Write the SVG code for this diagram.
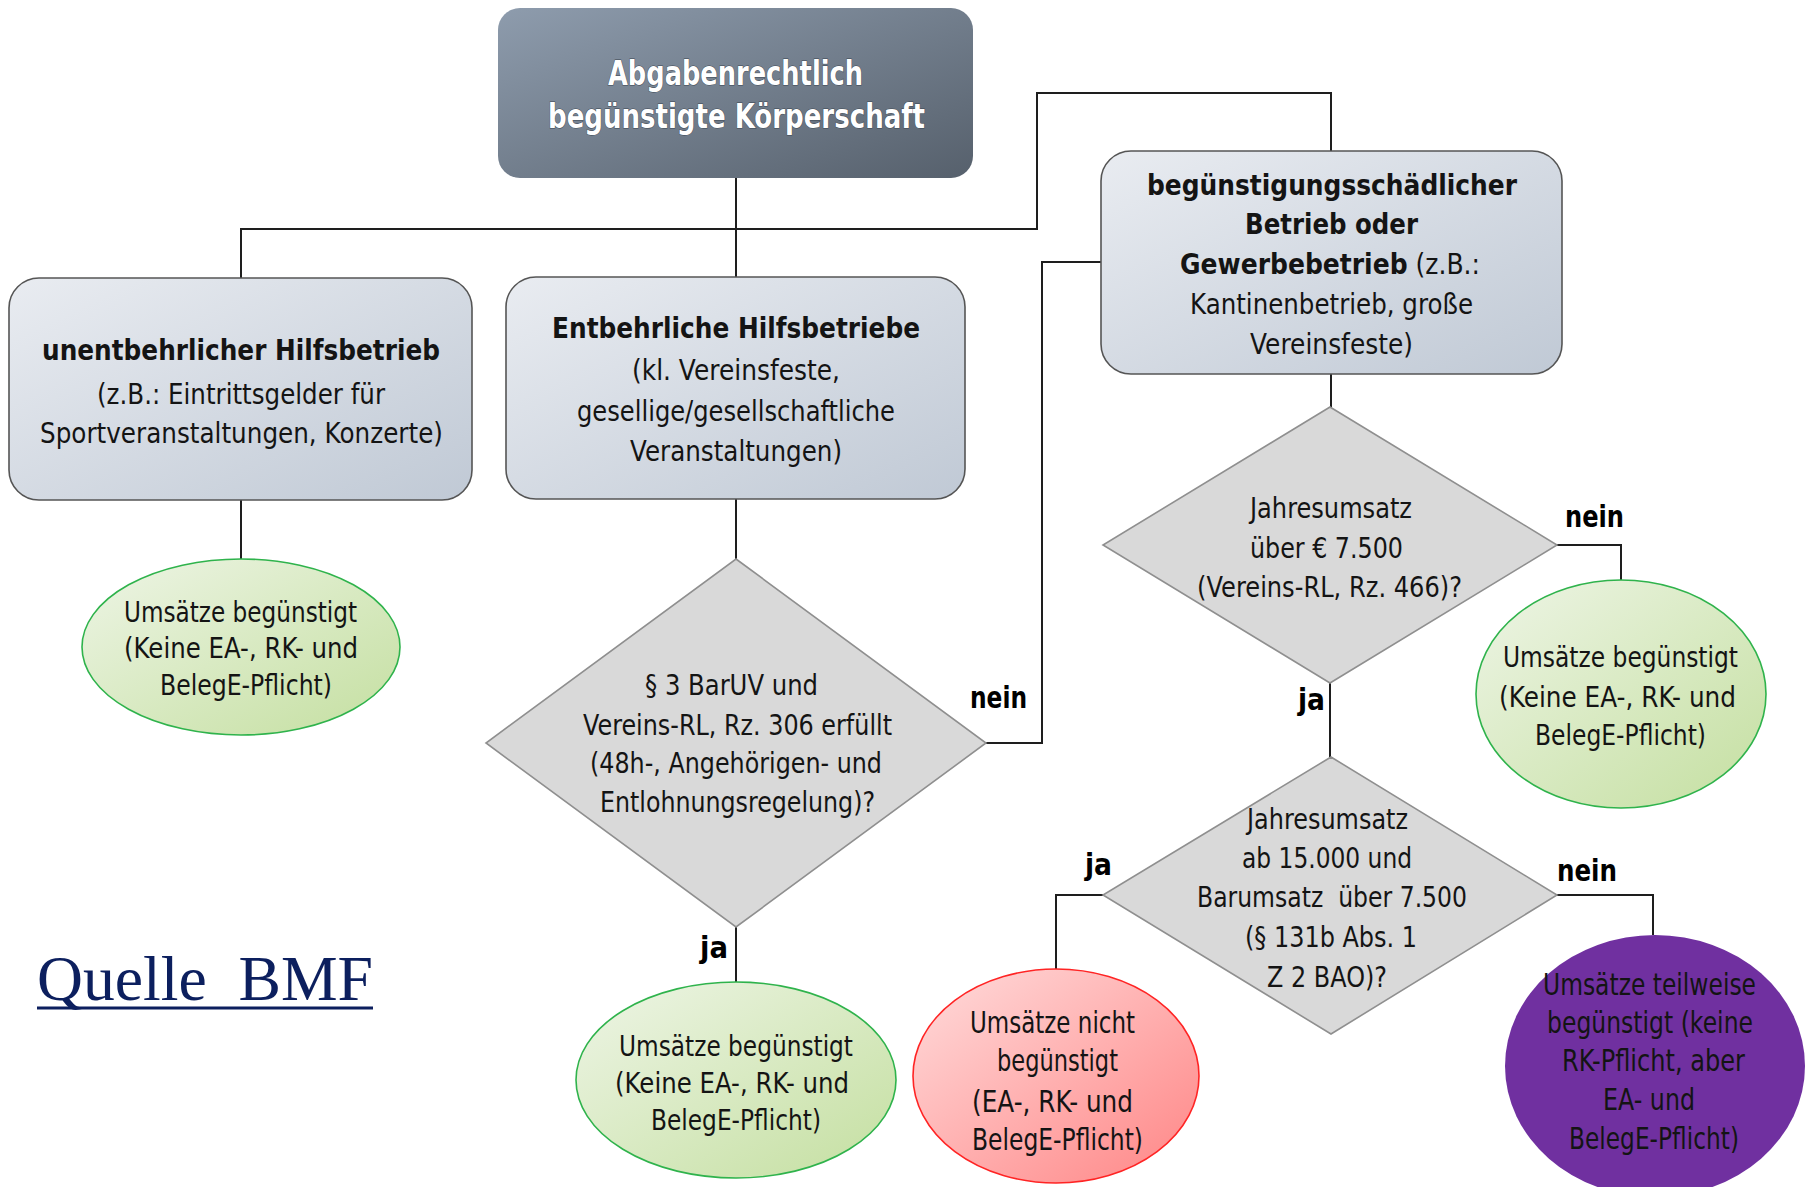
<svg xmlns="http://www.w3.org/2000/svg" width="1806" height="1187" viewBox="0 0 1806 1187">
<defs>
<linearGradient id="gTop" x1="0" y1="0" x2="1" y2="1"><stop offset="0" stop-color="#8e9cad"/><stop offset="1" stop-color="#56606c"/></linearGradient>
<linearGradient id="gBox" x1="0" y1="0" x2="1" y2="1"><stop offset="0" stop-color="#e9ecf1"/><stop offset="1" stop-color="#c0c9d5"/></linearGradient>
<linearGradient id="gGreen" x1="0" y1="0" x2="1" y2="1"><stop offset="0" stop-color="#eef5e6"/><stop offset="1" stop-color="#c4dfa0"/></linearGradient>
<linearGradient id="gRed" x1="0" y1="0" x2="1" y2="1"><stop offset="0" stop-color="#ffdcdc"/><stop offset="1" stop-color="#ff8585"/></linearGradient>
<style>
.box{fill:url(#gBox);stroke:#555;stroke-width:1.6}
.dia{fill:#d9d9d9;stroke:#8f8f8f;stroke-width:1.6}
.grn{fill:url(#gGreen);stroke:#2fb34c;stroke-width:1.6}
.red{fill:url(#gRed);stroke:#ff2424;stroke-width:1.6}
.pur{fill:#7030a0}
.t{font-family:"DejaVu Sans","Liberation Sans",sans-serif;font-size:29px;fill:#141414;text-anchor:start}
.b{font-weight:bold}
.w{fill:#fff;font-size:34px;font-weight:bold;stroke:#3c4652;stroke-width:1;paint-order:stroke}
.lg{font-size:30px}
.lbl{font-family:"DejaVu Sans","Liberation Sans",sans-serif;font-size:30px;font-weight:bold;fill:#000}
.con{fill:none;stroke:#1e1e1e;stroke-width:2}
</style>
</defs>

<g id="connectors" class="con">
<path d="M736,178 V229"/>
<path d="M241,278 V229 H1037 V93 H1331 V151"/>
<path d="M736,229 V277"/>
<path d="M241,500 V559"/>
<path d="M736,499 V559"/>
<path d="M986,743 H1042 V262 H1101"/>
<path d="M736,927 V982"/>
<path d="M1331,374 V407"/>
<path d="M1557,545 H1621 V580"/>
<path d="M1330,683 V757"/>
<path d="M1103,895 H1056 V969"/>
<path d="M1557,895 H1653 V935"/>
</g>

<g id="labels">
<text class="lbl" x="970" y="708" textLength="57" lengthAdjust="spacingAndGlyphs">nein</text>
<text class="lbl" x="700" y="958" textLength="28" lengthAdjust="spacingAndGlyphs">ja</text>
<text class="lbl" x="1565" y="527" textLength="59" lengthAdjust="spacingAndGlyphs">nein</text>
<text class="lbl" x="1298" y="710" textLength="27" lengthAdjust="spacingAndGlyphs">ja</text>
<text class="lbl" x="1085" y="875" textLength="27" lengthAdjust="spacingAndGlyphs">ja</text>
<text class="lbl" x="1557" y="881" textLength="60" lengthAdjust="spacingAndGlyphs">nein</text>
</g>

<g id="top">
<rect x="498" y="8" width="475" height="170" rx="22" fill="url(#gTop)"/>
<text class="t w" x="608" y="85" textLength="255" lengthAdjust="spacingAndGlyphs">Abgabenrechtlich</text>
<text class="t w" x="548" y="128" textLength="377" lengthAdjust="spacingAndGlyphs">begünstigte Körperschaft</text>
</g>

<g id="box-unentbehrlich">
<rect class="box" x="9" y="278" width="463" height="222" rx="30"/>
<text class="t b" x="42" y="360" textLength="398" lengthAdjust="spacingAndGlyphs">unentbehrlicher Hilfsbetrieb</text>
<text class="t" x="97" y="404" textLength="288" lengthAdjust="spacingAndGlyphs">(z.B.: Eintrittsgelder für</text>
<text class="t" x="40" y="443" textLength="403" lengthAdjust="spacingAndGlyphs">Sportveranstaltungen, Konzerte)</text>
</g>

<g id="box-entbehrlich">
<rect class="box" x="506" y="277" width="459" height="222" rx="30"/>
<text class="t b" x="552" y="338" textLength="368" lengthAdjust="spacingAndGlyphs">Entbehrliche Hilfsbetriebe</text>
<text class="t" x="632" y="380" textLength="208" lengthAdjust="spacingAndGlyphs">(kl. Vereinsfeste,</text>
<text class="t" x="577" y="421" textLength="318" lengthAdjust="spacingAndGlyphs">gesellige/gesellschaftliche</text>
<text class="t" x="630" y="461" textLength="212" lengthAdjust="spacingAndGlyphs">Veranstaltungen)</text>
</g>

<g id="box-schaedlich">
<rect class="box" x="1101" y="151" width="461" height="223" rx="30"/>
<text class="t b" x="1147" y="195" textLength="370" lengthAdjust="spacingAndGlyphs">begünstigungsschädlicher</text>
<text class="t b" x="1245" y="234" textLength="173" lengthAdjust="spacingAndGlyphs">Betrieb oder</text>
<text class="t" x="1180" y="274" textLength="300" lengthAdjust="spacingAndGlyphs"><tspan class="b">Gewerbebetrieb</tspan> (z.B.:</text>
<text class="t" x="1190" y="314" textLength="283" lengthAdjust="spacingAndGlyphs">Kantinenbetrieb, große</text>
<text class="t" x="1250" y="354" textLength="163" lengthAdjust="spacingAndGlyphs">Vereinsfeste)</text>
</g>

<g id="ell-unentbehrlich">
<ellipse class="grn" cx="241" cy="647" rx="159" ry="88"/>
<text class="t" x="124" y="622" textLength="233" lengthAdjust="spacingAndGlyphs">Umsätze begünstigt</text>
<text class="t" x="124" y="658" textLength="234" lengthAdjust="spacingAndGlyphs">(Keine EA-, RK- und</text>
<text class="t" x="160" y="695" textLength="172" lengthAdjust="spacingAndGlyphs">BelegE-Pflicht)</text>
</g>

<g id="dia-baruv">
<polygon class="dia" points="736,559 986,743 736,927 486,743"/>
<text class="t" x="645" y="695" textLength="173" lengthAdjust="spacingAndGlyphs">§ 3 BarUV und</text>
<text class="t" x="583" y="735" textLength="309" lengthAdjust="spacingAndGlyphs">Vereins-RL, Rz. 306 erfüllt</text>
<text class="t" x="590" y="773" textLength="292" lengthAdjust="spacingAndGlyphs">(48h-, Angehörigen- und</text>
<text class="t" x="600" y="812" textLength="275" lengthAdjust="spacingAndGlyphs">Entlohnungsregelung)?</text>
</g>

<g id="ell-entbehrlich">
<ellipse class="grn" cx="736" cy="1080" rx="160" ry="98"/>
<text class="t" x="619" y="1056" textLength="234" lengthAdjust="spacingAndGlyphs">Umsätze begünstigt</text>
<text class="t" x="615" y="1093" textLength="234" lengthAdjust="spacingAndGlyphs">(Keine EA-, RK- und</text>
<text class="t" x="651" y="1130" textLength="170" lengthAdjust="spacingAndGlyphs">BelegE-Pflicht)</text>
</g>

<g id="dia-7500">
<polygon class="dia" points="1330,407 1557,545 1330,683 1103,545"/>
<text class="t" x="1250" y="518" textLength="162" lengthAdjust="spacingAndGlyphs">Jahresumsatz</text>
<text class="t" x="1250" y="558" textLength="153" lengthAdjust="spacingAndGlyphs">über € 7.500</text>
<text class="t" x="1197" y="597" textLength="265" lengthAdjust="spacingAndGlyphs">(Vereins-RL, Rz. 466)?</text>
</g>

<g id="ell-7500">
<ellipse class="grn" cx="1621" cy="694" rx="145" ry="114"/>
<text class="t" x="1503" y="667" textLength="235" lengthAdjust="spacingAndGlyphs">Umsätze begünstigt</text>
<text class="t" x="1499" y="707" textLength="237" lengthAdjust="spacingAndGlyphs">(Keine EA-, RK- und</text>
<text class="t" x="1535" y="745" textLength="171" lengthAdjust="spacingAndGlyphs">BelegE-Pflicht)</text>
</g>

<g id="dia-15000">
<polygon class="dia" points="1331,757 1557,895 1331,1034 1103,895"/>
<text class="t" x="1247" y="829" textLength="161" lengthAdjust="spacingAndGlyphs">Jahresumsatz</text>
<text class="t" x="1242" y="868" textLength="170" lengthAdjust="spacingAndGlyphs">ab 15.000 und</text>
<text class="t" x="1197" y="907" textLength="270" lengthAdjust="spacingAndGlyphs" xml:space="preserve">Barumsatz  über 7.500</text>
<text class="t" x="1245" y="947" textLength="172" lengthAdjust="spacingAndGlyphs">(§ 131b Abs. 1</text>
<text class="t" x="1267" y="987" textLength="120" lengthAdjust="spacingAndGlyphs">Z 2 BAO)?</text>
</g>

<g id="ell-nicht">
<ellipse class="red" cx="1056" cy="1076" rx="143" ry="107"/>
<text class="t lg" x="970" y="1033" textLength="165" lengthAdjust="spacingAndGlyphs">Umsätze nicht</text>
<text class="t lg" x="997" y="1071" textLength="121" lengthAdjust="spacingAndGlyphs">begünstigt</text>
<text class="t lg" x="972" y="1112" textLength="161" lengthAdjust="spacingAndGlyphs">(EA-, RK- und</text>
<text class="t lg" x="972" y="1150" textLength="171" lengthAdjust="spacingAndGlyphs">BelegE-Pflicht)</text>
</g>

<g id="ell-teilweise">
<ellipse class="pur" cx="1655" cy="1066" rx="150" ry="131"/>
<text class="t lg" x="1543" y="995" textLength="213" lengthAdjust="spacingAndGlyphs">Umsätze teilweise</text>
<text class="t lg" x="1547" y="1033" textLength="206" lengthAdjust="spacingAndGlyphs">begünstigt (keine</text>
<text class="t lg" x="1562" y="1071" textLength="183" lengthAdjust="spacingAndGlyphs">RK-Pflicht, aber</text>
<text class="t lg" x="1603" y="1110" textLength="92" lengthAdjust="spacingAndGlyphs">EA- und</text>
<text class="t lg" x="1569" y="1149" textLength="170" lengthAdjust="spacingAndGlyphs">BelegE-Pflicht)</text>
</g>

<g id="source">
<text x="37" y="1000" font-family="'Liberation Serif',serif" font-size="63" fill="#0c1f5e" textLength="336" lengthAdjust="spacingAndGlyphs" xml:space="preserve">Quelle  BMF</text>
<line x1="37" y1="1008" x2="373" y2="1008" stroke="#0c1f5e" stroke-width="3"/>
</g>
</svg>
